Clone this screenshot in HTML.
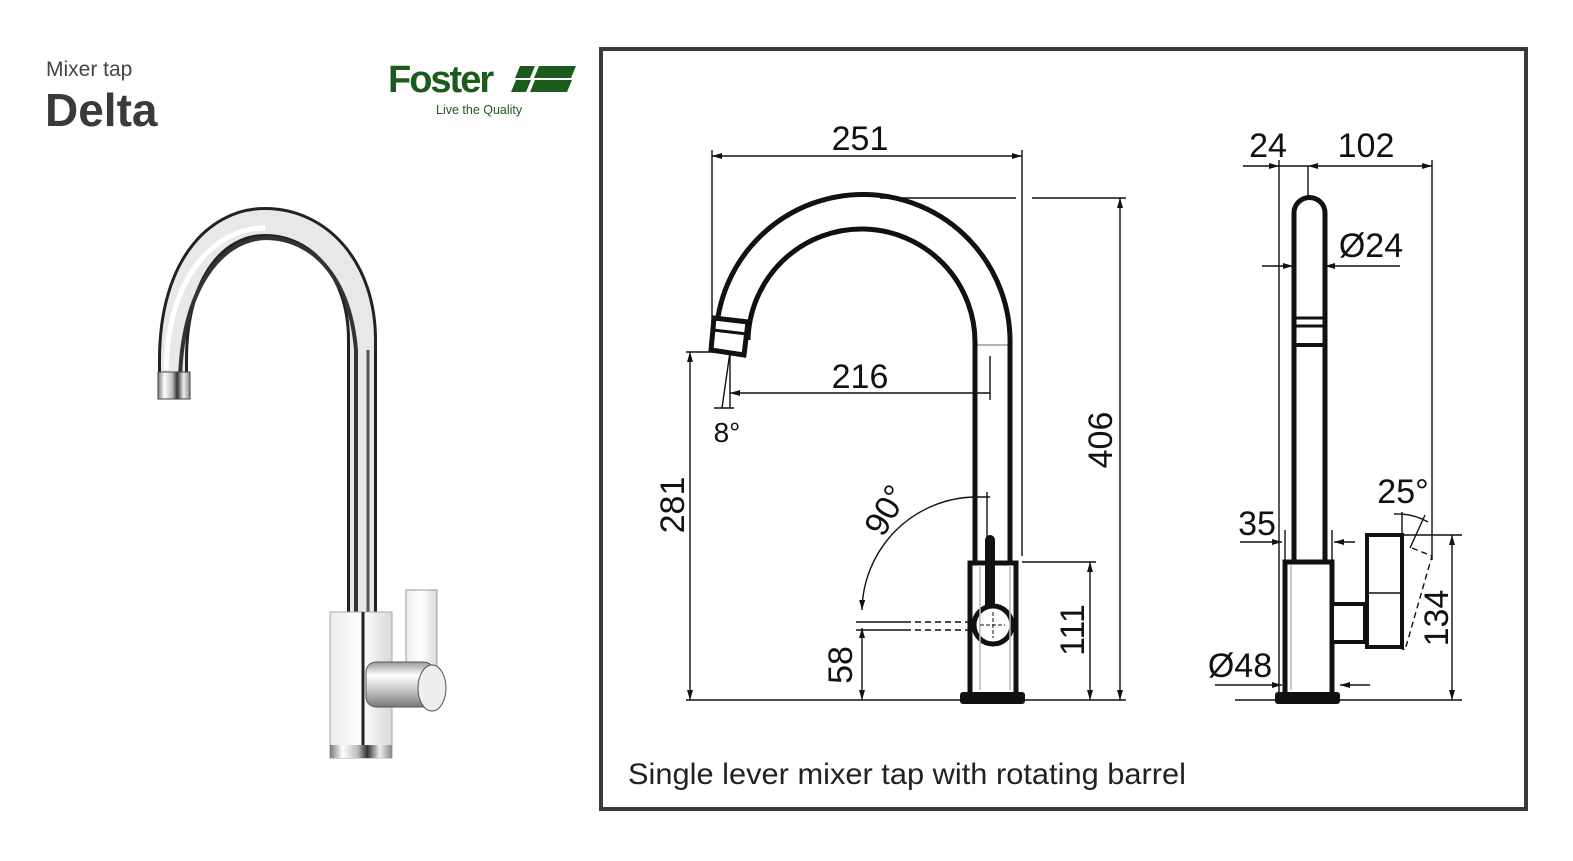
<!DOCTYPE html>
<html><head><meta charset="utf-8"><style>
html,body{margin:0;padding:0;background:#fff}
svg{display:block}
text{font-family:"Liberation Sans",sans-serif}
</style></head><body>
<svg width="1573" height="861" viewBox="0 0 1573 861" xmlns="http://www.w3.org/2000/svg">
<defs>
<linearGradient id="chr" x1="0" x2="1" y1="0" y2="0">
<stop offset="0" stop-color="#777"/><stop offset="0.2" stop-color="#fff"/><stop offset="0.45" stop-color="#bbb"/><stop offset="0.6" stop-color="#333"/><stop offset="0.8" stop-color="#eee"/><stop offset="1" stop-color="#888"/>
</linearGradient>
<linearGradient id="chrv" x1="0" x2="0" y1="0" y2="1">
<stop offset="0" stop-color="#999"/><stop offset="0.3" stop-color="#fff"/><stop offset="0.6" stop-color="#ccc"/><stop offset="1" stop-color="#777"/>
</linearGradient>
<linearGradient id="blk" x1="0" x2="1"><stop offset="0" stop-color="#ececec"/><stop offset="0.5" stop-color="#fff"/><stop offset="1" stop-color="#d8d8d8"/></linearGradient>
<marker id="ar" viewBox="0 0 10 6" refX="10" refY="3" markerWidth="12" markerHeight="6" orient="auto-start-reverse" markerUnits="userSpaceOnUse"><path d="M0,0 L10,3 L0,6 z" fill="#111"/></marker>
</defs>

<text x="46" y="76" font-size="21" fill="#444">Mixer tap</text>
<text x="45" y="126" font-size="46" font-weight="bold" fill="#3a3a3a">Delta</text>

<text x="388" y="92" font-size="38" font-weight="bold" fill="#1d5b1d" letter-spacing="-2">Foster</text>
<polygon points="520,66 535,66 530,78 515,78" fill="#1d5b1d"/>
<polygon points="539,66 576,66 571,78 534,78" fill="#1d5b1d"/>
<polygon points="516,80 531,80 526,92 511,92" fill="#1d5b1d"/>
<polygon points="535,80 572,80 567,92 530,92" fill="#1d5b1d"/>
<text x="436" y="114" font-size="12.5" fill="#1d5b1d">Live the Quality</text>

<g>
<path d="M173,385 L173,360 C173,270 215,222 265,222 C320,222 362,270 362,340 L362,615" fill="none" stroke="#222" stroke-width="30"/>
<path d="M173,385 L173,360 C173,270 215,222 265,222 C320,222 362,270 362,340 L362,615" fill="none" stroke="#e8e8e8" stroke-width="24"/>
<path d="M166,370 C168,280 212,228 265,228" fill="none" stroke="#fff" stroke-width="5"/>
<path d="M180,380 C182,290 220,240 265,238 C315,238 350,280 356,350 L356,612" fill="none" stroke="#333" stroke-width="4"/>
<path d="M368,350 L368,612" stroke="#555" stroke-width="3"/>
<rect x="158" y="372" width="32" height="27" fill="url(#chr)" stroke="#444"/>
<rect x="330" y="612" width="62" height="146" fill="url(#blk)" stroke="#aaa"/>
<line x1="363" y1="612" x2="363" y2="758" stroke="#222" stroke-width="3"/>
<rect x="330" y="745" width="62" height="13" fill="url(#chr)"/>
<rect x="406" y="590" width="31" height="92" fill="url(#blk)" stroke="#999"/>
<rect x="366" y="662" width="68" height="45" rx="10" fill="url(#chrv)" stroke="#555"/>
<ellipse cx="432" cy="688" rx="14" ry="23" fill="#eee" stroke="#555"/>
</g>

<rect x="601" y="49" width="925" height="760" fill="none" stroke="#3a3a3a" stroke-width="4"/>

<g stroke="#111" fill="none" stroke-width="1.4">
<line x1="712" y1="156" x2="1022" y2="156" marker-start="url(#ar)" marker-end="url(#ar)"/>
<line x1="712" y1="150" x2="712" y2="322"/>
<line x1="1022" y1="150" x2="1022" y2="556"/>
<line x1="880" y1="198" x2="1016" y2="198"/>
<line x1="1032" y1="198" x2="1126" y2="198"/>
<line x1="1120" y1="198" x2="1120" y2="700" marker-start="url(#ar)" marker-end="url(#ar)"/>
<line x1="686" y1="352" x2="716" y2="352"/>
<line x1="690" y1="352" x2="690" y2="700" marker-start="url(#ar)" marker-end="url(#ar)"/>
<line x1="730" y1="393" x2="990" y2="393" marker-start="url(#ar)"/>
<line x1="990" y1="356" x2="990" y2="400"/>
<line x1="730" y1="352" x2="722" y2="408"/>
<line x1="730" y1="352" x2="730" y2="408"/>
<line x1="714" y1="408" x2="734" y2="408"/>
<path d="M975,497 A 115 115 0 0 0 862,610" marker-end="url(#ar)"/>
<line x1="987" y1="492" x2="987" y2="545"/>
<line x1="972" y1="497" x2="990" y2="497"/>
<line x1="856" y1="622" x2="905" y2="622"/>
<line x1="856" y1="630" x2="905" y2="630"/>
<line x1="905" y1="622" x2="975" y2="622" stroke-dasharray="6,4"/>
<line x1="905" y1="630" x2="975" y2="630" stroke-dasharray="6,4"/>
<line x1="862" y1="628" x2="862" y2="700" marker-start="url(#ar)" marker-end="url(#ar)"/>
<line x1="1022" y1="562" x2="1096" y2="562"/>
<line x1="1090" y1="562" x2="1090" y2="700" marker-start="url(#ar)" marker-end="url(#ar)"/>
<line x1="686" y1="700" x2="1126" y2="700"/>
<line x1="975" y1="345" x2="1008" y2="345" stroke="#999"/>
</g>

<g stroke="#111" fill="none" stroke-width="5">
<path d="M716,322 L716,338 A 147 147 0 0 1 1010,345 L1010,562"/>
<path d="M748,340 A 113 113 0 0 1 975,345 L975,562"/>
<path d="M714,318 L748,322 L744,355 L711,350 Z" fill="#fff"/>
<line x1="713" y1="330" x2="747" y2="334" stroke-width="3"/>
<rect x="970" y="563" width="46" height="132" fill="#fff"/>
<line x1="990" y1="540" x2="990" y2="608" stroke-width="10" stroke-linecap="round"/>
<circle cx="993" cy="625" r="19" fill="#fff"/>
</g>
<rect x="960" y="692" width="65" height="12" rx="3" fill="#111"/>
<line x1="980" y1="565" x2="980" y2="690" stroke="#bbb" stroke-width="1.5"/>
<line x1="1010" y1="565" x2="1010" y2="690" stroke="#bbb" stroke-width="1.5"/>
<line x1="980" y1="625" x2="1005" y2="625" stroke="#111" stroke-width="1" stroke-dasharray="4,2"/>
<line x1="993" y1="612" x2="993" y2="638" stroke="#111" stroke-width="1" stroke-dasharray="4,2"/>

<g stroke="#111" fill="none" stroke-width="1.4">
<line x1="1243" y1="166" x2="1279" y2="166" marker-end="url(#ar)"/>
<line x1="1279" y1="166" x2="1308" y2="166"/>
<line x1="1308" y1="166" x2="1336" y2="166" marker-start="url(#ar)"/>
<line x1="1336" y1="166" x2="1432" y2="166" marker-end="url(#ar)"/>
<line x1="1279" y1="160" x2="1279" y2="700"/>
<line x1="1308" y1="166" x2="1308" y2="196"/>
<line x1="1432" y1="160" x2="1432" y2="560"/>
<line x1="1262" y1="266" x2="1293" y2="266" marker-end="url(#ar)"/>
<line x1="1325" y1="266" x2="1400" y2="266" marker-start="url(#ar)"/>
<line x1="1240" y1="542" x2="1282" y2="542" marker-end="url(#ar)"/>
<line x1="1334" y1="542" x2="1355" y2="542" marker-start="url(#ar)"/>
<line x1="1285" y1="530" x2="1285" y2="560"/>
<line x1="1332" y1="530" x2="1332" y2="560"/>
<line x1="1215" y1="685" x2="1282" y2="685" marker-end="url(#ar)"/>
<line x1="1340" y1="685" x2="1370" y2="685" marker-start="url(#ar)"/>
<line x1="1402" y1="535" x2="1462" y2="535"/>
<line x1="1452" y1="535" x2="1452" y2="700" marker-start="url(#ar)" marker-end="url(#ar)"/>
<line x1="1235" y1="700" x2="1462" y2="700"/>
<line x1="1402" y1="512" x2="1402" y2="540"/>
<line x1="1425" y1="515" x2="1410" y2="548"/>
<path d="M1394,514 Q1412,513 1428,522"/>
<path d="M1412,548 L1432,556 L1405,650 L1374,638" stroke-dasharray="6,4"/>
<line x1="1370" y1="628" x2="1400" y2="558" stroke-dasharray="6,4"/>
</g>
<g stroke="#111" fill="none" stroke-width="5">
<path d="M1294,562 L1294,213 A 15 15 0 0 1 1325,213 L1325,562"/>
<line x1="1294" y1="318" x2="1325" y2="318" stroke-width="3"/>
<line x1="1294" y1="326" x2="1325" y2="326" stroke-width="3"/>
<line x1="1294" y1="345" x2="1325" y2="345" stroke-width="4"/>
<rect x="1285" y="562" width="47" height="134" fill="#fff"/>
<rect x="1332" y="604" width="33" height="38" fill="#fff" stroke-width="4"/>
<rect x="1367" y="535" width="35" height="112" fill="#fff" stroke-width="4"/>
</g>
<line x1="1367" y1="593" x2="1402" y2="593" stroke="#111" stroke-width="1.4"/>
<rect x="1275" y="692" width="65" height="12" rx="3" fill="#111"/>
<line x1="1291" y1="565" x2="1291" y2="690" stroke="#bbb" stroke-width="1.5"/>

<g font-size="34" fill="#111">
<text x="860" y="150" text-anchor="middle">251</text>
<text x="860" y="388" text-anchor="middle">216</text>
<text x="727" y="442" text-anchor="middle" font-size="28">8°</text>
<text transform="translate(1112,440) rotate(-90)" text-anchor="middle">406</text>
<text transform="translate(684,505) rotate(-90)" text-anchor="middle">281</text>
<text transform="translate(896,516) rotate(-60)" text-anchor="middle">90°</text>
<text transform="translate(852,665) rotate(-90)" text-anchor="middle">58</text>
<text transform="translate(1084,630) rotate(-90)" text-anchor="middle">111</text>
<text x="1268" y="157" text-anchor="middle">24</text>
<text x="1366" y="157" text-anchor="middle">102</text>
<text x="1371" y="257" text-anchor="middle">Ø24</text>
<text x="1403" y="503" text-anchor="middle">25°</text>
<text x="1257" y="535" text-anchor="middle">35</text>
<text x="1240" y="677" text-anchor="middle">Ø48</text>
<text transform="translate(1448,618) rotate(-90)" text-anchor="middle">134</text>
</g>
<text x="628" y="784" font-size="30" fill="#222" textLength="558" lengthAdjust="spacingAndGlyphs">Single lever mixer tap with rotating barrel</text>
</svg>
</body></html>
